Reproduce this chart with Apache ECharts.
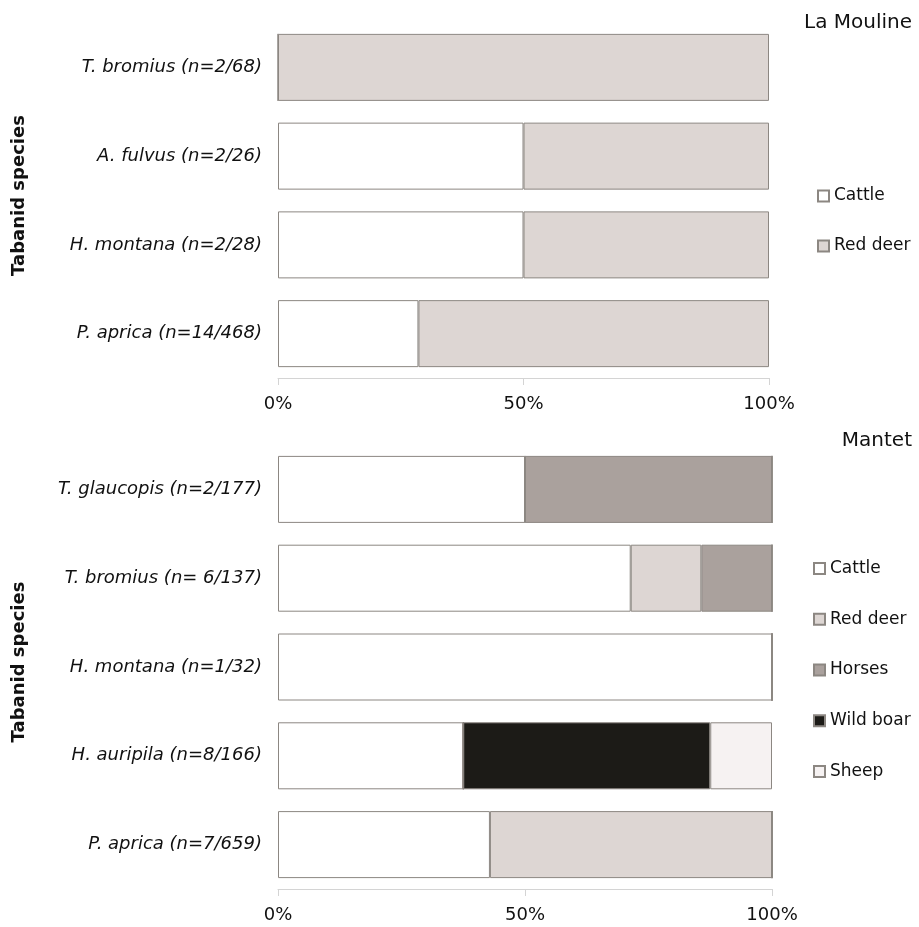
<!DOCTYPE html>
<html><head><meta charset="utf-8">
<script src="https://cdn.jsdelivr.net/npm/echarts@6/dist/echarts.min.js"></script>
<style>html,body{margin:0;padding:0;background:#fff}#c{width:919px;height:927px}</style>
</head><body><div id="c"></div>
<script>
// ---- data ----
const topTitle = 'La Mouline';
const botTitle = 'Mantet';
const topCats = ['T. bromius (n=2/68)', 'A. fulvus (n=2/26)', 'H. montana (n=2/28)', 'P. aprica (n=14/468)'];
const topCattle = [0, 50, 50, 28.6];
const topRedDeer = [100, 50, 50, 71.4];
const botCats = ['T. glaucopis (n=2/177)', 'T. bromius (n= 6/137)', 'H. montana (n=1/32)', 'H. auripila (n=8/166)', 'P. aprica (n=7/659)'];
const botCattle = [50, 71.4, 100, 37.5, 42.9];
const botRedDeer = [0, 14.3, 0, 0, 57.1];
const botHorses = [50, 14.3, 0, 0, 0];
const botWildBoar = [0, 0, 0, 50, 0];
const botSheep = [0, 0, 0, 12.5, 0];
const xTicks = [0, 50, 100];
const yName = 'Tabanid species';

const colors = {'Cattle':'#ffffff','Red deer':'#ddd6d3','Horses':'#aaa19d','Wild boar':'#1c1b17','Sheep':'#f6f2f2'};
const FONT = 'DejaVu Sans';

function bar(name, data, idx, stack) {
  return {
    type: 'bar', name: name, data: data, stack: stack,
    xAxisIndex: idx, yAxisIndex: idx, barWidth: 67,
    itemStyle: {color: colors[name], borderColor: '#8c8782', borderWidth: 1},
    emphasis: {disabled: true}
  };
}
function xAxis(idx) {
  return {
    type: 'value', gridIndex: idx, min: 0, max: 100, interval: 50,
    axisLine: {show: true, lineStyle: {color: '#d4d4d4', width: 1}},
    axisTick: {show: true, length: 7, lineStyle: {color: '#d4d4d4'}},
    splitLine: {show: false},
    axisLabel: {formatter: v => xTicks.includes(v) ? v + '%' : '', color: '#111', fontFamily: FONT, fontSize: 18, margin: 17}
  };
}
function yAxis(idx, cats) {
  return {
    type: 'category', gridIndex: idx, data: cats, inverse: true,
    axisLine: {show: false}, axisTick: {show: false},
    axisLabel: {color: '#111', fontFamily: FONT, fontStyle: 'italic', fontSize: 18, margin: 16},
    name: yName, nameLocation: 'middle', nameGap: 250, nameRotate: 90,
    nameTextStyle: {color: '#111', fontFamily: FONT, fontWeight: 'bold', fontSize: 18, padding: [0, 0, 0, 10]}
  };
}
const legendText = {fontFamily: FONT, fontSize: 17, color: '#111'};
const chart = echarts.init(document.getElementById('c'), null, {renderer: 'canvas'});
chart.setOption({
  animation: false,
  backgroundColor: '#fff',
  title: [
    {text: topTitle, right: 2, top: 8, textStyle: {fontFamily: FONT, fontWeight: 'normal', fontSize: 20, color: '#111'}},
    {text: botTitle, right: 2, top: 426, textStyle: {fontFamily: FONT, fontWeight: 'normal', fontSize: 20, color: '#111'}}
  ],
  grid: [
    {left: 278, right: 150, top: 23, height: 355, outerBoundsMode: 'none', containLabel: false},
    {left: 278, right: 147, top: 445, height: 444, outerBoundsMode: 'none', containLabel: false}
  ],
  legend: [
    {data: ['Cattle', 'Red deer'], orient: 'vertical', left: 812, top: 182.5, icon: 'rect', itemWidth: 11, itemHeight: 11, itemGap: 33,
     textStyle: legendText, selectedMode: false},
    {data: ['Cattle', 'Red deer', 'Horses', 'Wild boar', 'Sheep'], orient: 'vertical', left: 808, top: 555, icon: 'rect', itemWidth: 11, itemHeight: 11, itemGap: 33.75,
     textStyle: legendText, selectedMode: false}
  ],
  xAxis: [xAxis(0), xAxis(1)],
  yAxis: [yAxis(0, topCats), yAxis(1, botCats)],
  series: [
    bar('Cattle', topCattle, 0, 'top'),
    bar('Red deer', topRedDeer, 0, 'top'),
    bar('Cattle', botCattle, 1, 'bot'),
    bar('Red deer', botRedDeer, 1, 'bot'),
    bar('Horses', botHorses, 1, 'bot'),
    bar('Wild boar', botWildBoar, 1, 'bot'),
    bar('Sheep', botSheep, 1, 'bot')
  ]
});
</script></body></html>
